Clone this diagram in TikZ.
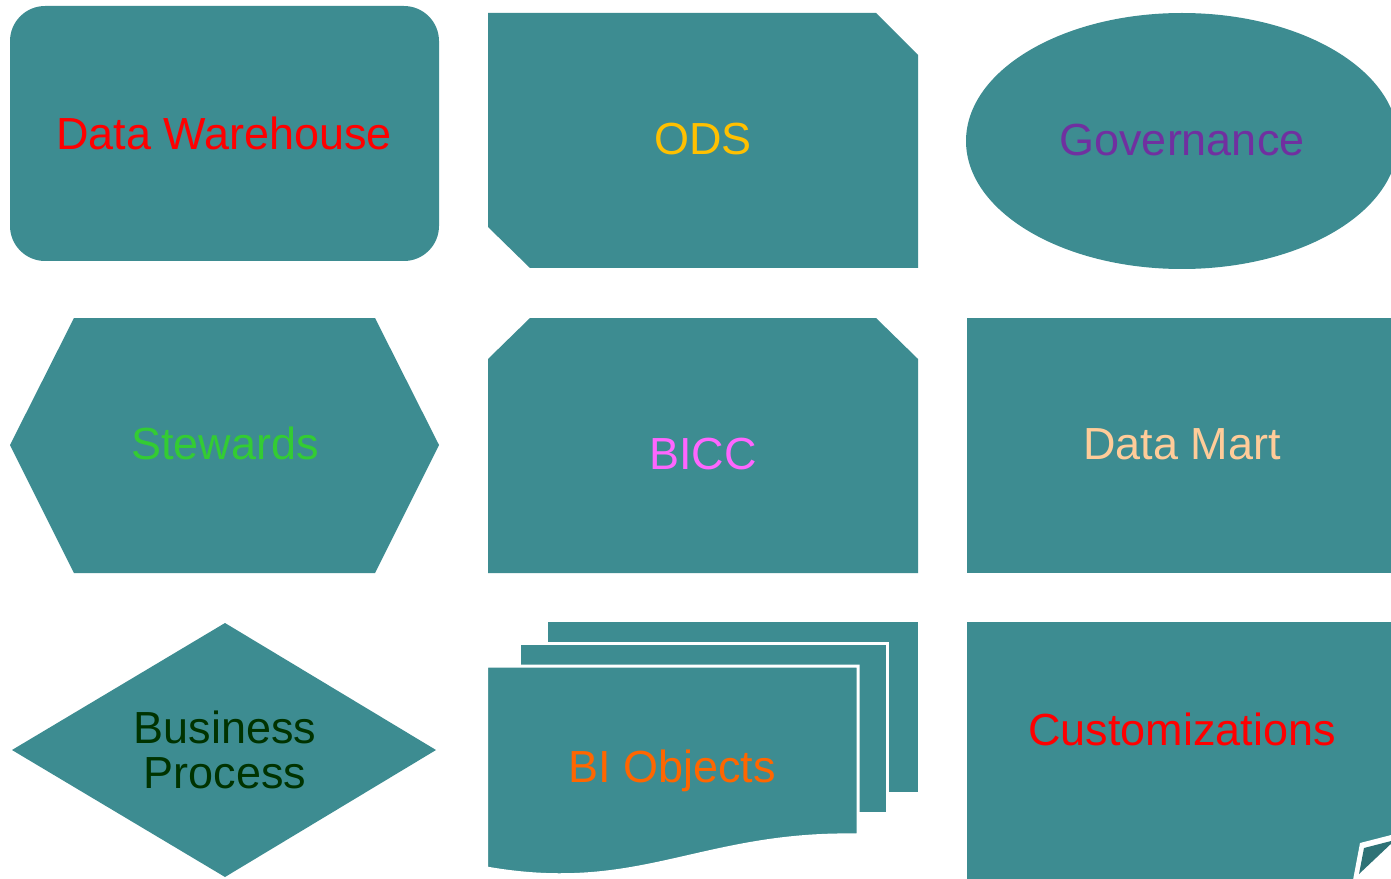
\documentclass[tikz,border=0pt]{standalone}
\usepackage{fontspec}
\setmainfont{Liberation Sans}
\definecolor{boxteal}{RGB}{61,140,145}
\definecolor{foldteal}{RGB}{46,114,118}
\definecolor{odsgold}{RGB}{255,192,0}
\definecolor{govpurple}{RGB}{112,48,160}
\definecolor{stewgreen}{RGB}{51,204,51}
\definecolor{biccpink}{RGB}{255,102,255}
\definecolor{martpeach}{RGB}{255,204,153}
\definecolor{bpgreen}{RGB}{0,51,0}
\definecolor{objorange}{RGB}{255,102,0}

\begin{document}
\begin{tikzpicture}[x=0.02cm,y=-0.02cm,
    blk/.style={fill=boxteal},
    sheet/.style={fill=boxteal,draw=white,line width=1.7pt},
    lbl/.style={font=\fontsize{25.6}{25.6}\selectfont,align=center,inner sep=0pt}]
    \clip (0,0) rectangle (1391,878);
    \fill[white] (0,0) rectangle (1391,878);
    % row 1
    \fill[blk,rounded corners=20pt] (10,6) rectangle (439,261);
    \node[lbl,text=red,anchor=base] (dwh) at (224,150) {Data Warehouse};
    \fill[blk] (488,13) -- (876,13) -- (918,55) -- (918,268) -- (530,268) -- (488,227) -- cycle;
    \node[lbl,text=odsgold,anchor=base] (ods) at (703,155) {ODS};
    \fill[blk] (1182,141) ellipse [x radius=216, y radius=128];
    \node[lbl,text=govpurple,anchor=base] (gov) at (1182,156) {Governance};
    % row 2
    \fill[blk] (74,318) -- (375,318) -- (439,445) -- (375,573) -- (74,573) -- (10,445) -- cycle;
    \node[lbl,text=stewgreen,anchor=base] (stew) at (225,459) {Stewards};
    \fill[blk] (530,318) -- (876,318) -- (918,359) -- (918,573) -- (488,573) -- (488,359) -- cycle;
    \node[lbl,text=biccpink,anchor=base] (bicc) at (703,469) {BICC};
    \fill[blk] (967,318) rectangle (1400,573);
    \node[lbl,text=martpeach,anchor=base] (mart) at (1182,459) {Data Mart};
    % row 3
    \fill[blk] (12,750) -- (225,623) -- (436,750) -- (225,877) -- cycle;
    \node[lbl,text=bpgreen] (bp) at (225,750) {Business\\Process};
    \fill[blk] (548,622) rectangle (918,792);
    \filldraw[sheet] (519,643) rectangle (887,813);
    \filldraw[sheet] (486.5,666) -- (858,666) -- (858,835)
        .. controls (700,832) and (640,895) .. (486.5,868) -- cycle;
    \node[lbl,text=objorange,anchor=base] (obj) at (672,782) {BI Objects};
    \fill[blk] (967,622) rectangle (1400,890);
    \fill[white] (1353,880) -- (1360,843) -- (1395,834) -- (1395,880) -- cycle;
    \fill[foldteal] (1364,848) -- (1395,840) -- (1359,874) -- cycle;
    \node[lbl,text=red,anchor=base] (cust) at (1182,745) {Customizations};
\end{tikzpicture}
\end{document}
